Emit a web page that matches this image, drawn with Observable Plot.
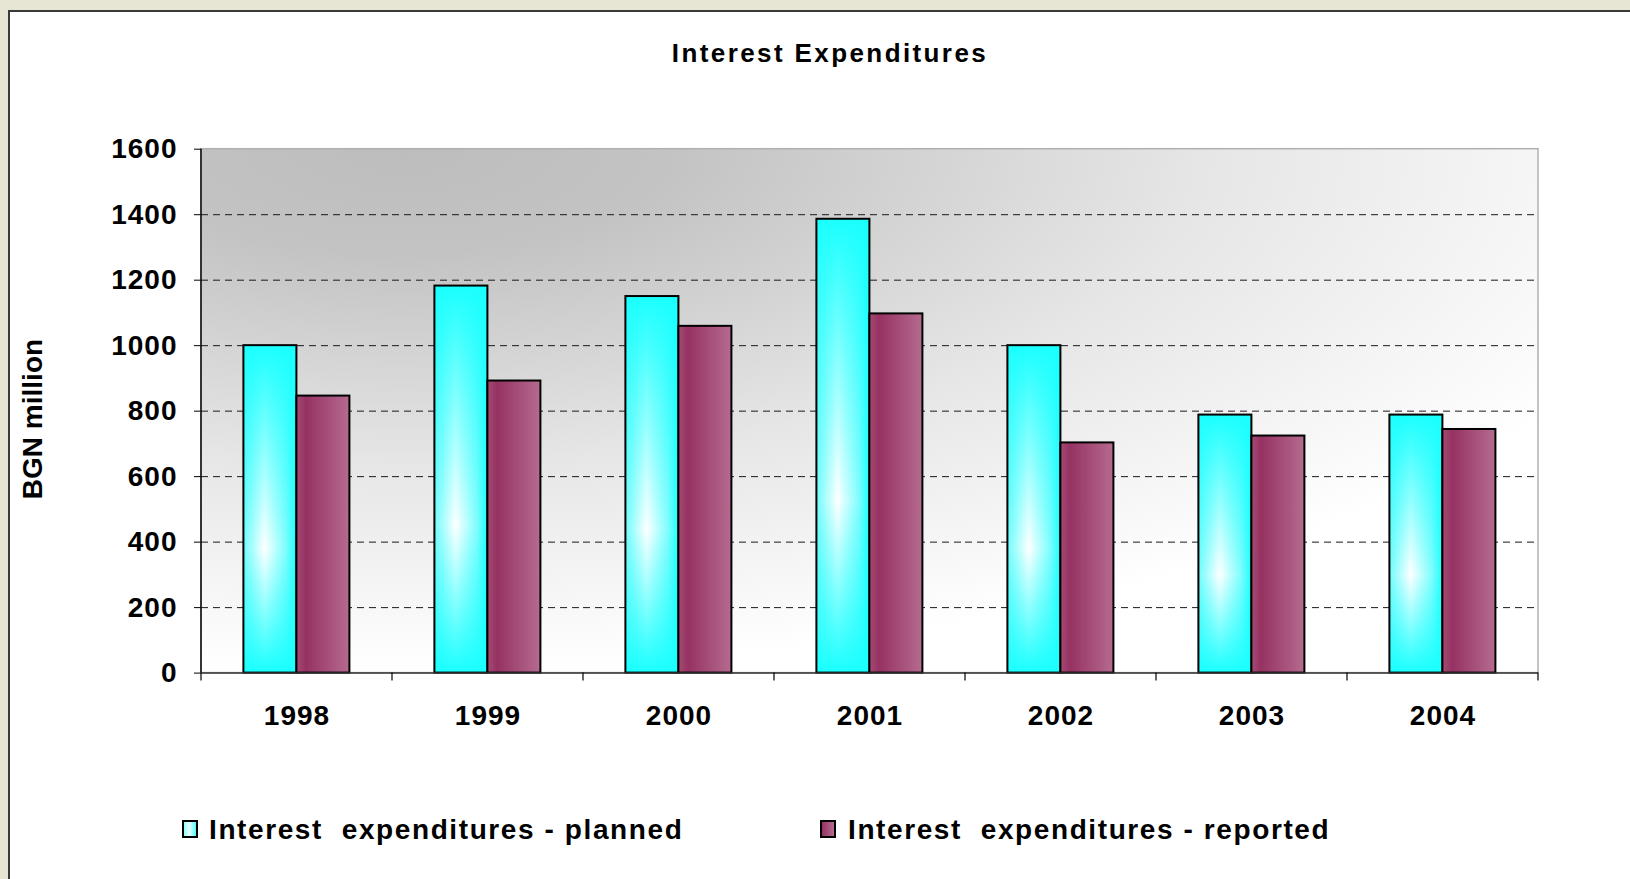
<!DOCTYPE html>
<html>
<head>
<meta charset="utf-8">
<script src="https://cdn.jsdelivr.net/npm/d3@7"></script>
<script src="https://cdn.jsdelivr.net/npm/@observablehq/plot@0.6"></script>
<style>
  html, body { margin: 0; padding: 0; }
  body { width: 1630px; height: 879px; overflow: hidden; position: relative;
         background: #e7e5d4; font-family: "Liberation Sans", Arial, sans-serif; }
  #panel { position: absolute; left: 8px; top: 10px; width: 1640px; height: 900px;
           background: #ffffff; border-left: 2px solid #3a3a3a; border-top: 2px solid #3a3a3a; box-sizing: border-box; }
  #title { position: absolute; left: 530px; width: 600px; top: 39.7px; text-align: center;
           font-size: 26px; line-height: 26px; font-weight: bold; letter-spacing: 2.4px; color: #000; }
  #ylabel { position: absolute; left: -87.4px; top: 405px; width: 240px; height: 28px; line-height: 28px;
            text-align: center; font-size: 28px; font-weight: bold; color: #000; transform: rotate(-90deg); }
  #chart { position: absolute; left: 0; top: 100px; }
  .lg-sw { position: absolute; top: 820px; width: 16px; height: 18px; box-sizing: border-box; border: 2px solid #000; }
  .lg-tx { position: absolute; top: 816.3px; font-size: 28px; line-height: 28px; font-weight: bold;
           letter-spacing: 1.6px; white-space: pre; color: #000; }
</style>
</head>
<body>
<svg width="0" height="0" style="position:absolute">
  <defs>
    <radialGradient id="bgG" cx="0.15" cy="0" r="1" fx="0.15" fy="0">
      <stop offset="0" stop-color="#bdbdbd"/>
      <stop offset="0.2" stop-color="#c3c3c3"/>
      <stop offset="0.6" stop-color="#e6e6e6"/>
      <stop offset="1" stop-color="#ffffff"/>
    </radialGradient>
    <linearGradient id="cyanH" x1="0" x2="1" y1="0" y2="0">
      <stop offset="0" stop-color="#6ffcfc"/>
      <stop offset="0.4" stop-color="#ffffff"/>
      <stop offset="0.8" stop-color="#80fdfd"/>
      <stop offset="1" stop-color="#1cfefe"/>
    </linearGradient>
    <linearGradient id="cyanV" x1="0" x2="0" y1="0" y2="1">
      <stop offset="0" stop-color="#1affff" stop-opacity="1"/>
      <stop offset="0.62" stop-color="#1affff" stop-opacity="0"/>
      <stop offset="1" stop-color="#1affff" stop-opacity="1"/>
    </linearGradient>
    <linearGradient id="purpleH" x1="0" x2="1" y1="0" y2="0">
      <stop offset="0" stop-color="#a44c74"/>
      <stop offset="0.18" stop-color="#963262"/>
      <stop offset="1" stop-color="#b56b90"/>
    </linearGradient>
  </defs>
</svg>
<div id="panel"></div>
<div id="title"></div>
<div id="ylabel"></div>
<div id="chart"></div>
<div id="legend"></div>
<script>
// ---- data ----
const title = "Interest Expenditures";
const yLabel = "BGN million";
const years = ["1998", "1999", "2000", "2001", "2002", "2003", "2004"];
const planned = [1000, 1182, 1150, 1386, 1000, 788, 788];
const reported = [846, 892, 1059, 1097, 703, 724, 744];
const yTicks = [0, 200, 400, 600, 800, 1000, 1200, 1400, 1600];
const seriesKeys = ["planned", "reported"];
const seriesNames = ["Interest  expenditures - planned", "Interest  expenditures - reported"];

(function () {
  const plannedRows = years.map((year, i) => ({year, series: seriesKeys[0], value: planned[i]}));
  const reportedRows = years.map((year, i) => ({year, series: seriesKeys[1], value: reported[i]}));

  document.getElementById("title").textContent = title;
  document.getElementById("ylabel").textContent = yLabel;

  const chart = Plot.plot({
    width: 1630,
    height: 680,
    marginTop: 48.7,
    marginBottom: 107.4,
    marginLeft: 200.6,
    marginRight: 91.5,
    style: {fontFamily: "'Liberation Sans', Arial, sans-serif", fontSize: "28px", fontWeight: "bold",
            letterSpacing: "1px", color: "#000", background: "transparent", overflow: "visible"},
    fx: {domain: years, padding: 0},
    x: {domain: seriesKeys, paddingInner: 0, paddingOuter: 0.77, axis: null},
    y: {domain: [yTicks[0], yTicks[yTicks.length - 1]]},
    marks: [
      Plot.gridY(yTicks.slice(1, -1), {stroke: "#1a1a1a", strokeOpacity: 1, strokeDasharray: "7,5", strokeWidth: 1}),
      Plot.barY(plannedRows, {fx: "year", x: "series", y: "value", fill: "url(#cyanH)"}),
      Plot.barY(plannedRows, {fx: "year", x: "series", y: "value", fill: "url(#cyanV)", stroke: "#000", strokeWidth: 2}),
      Plot.barY(reportedRows, {fx: "year", x: "series", y: "value", fill: "url(#purpleH)", stroke: "#000", strokeWidth: 2}),
      Plot.ruleY([0], {stroke: "#333", strokeWidth: 1.5}),
      Plot.axisY({ticks: yTicks, tickSize: 7, tickPadding: 17, tickFormat: "d", label: null, stroke: "#000"}),
      Plot.axisFx({anchor: "bottom", tickSize: 0, tickPadding: 32, label: null})
    ]
  });
  document.getElementById("chart").appendChild(chart);

  // plot-area background, axis line and category boundary ticks, from the scales
  const fxS = chart.scale("fx");
  const yS = chart.scale("y");
  const xLeft = fxS.apply(years[0]);
  const xRight = fxS.apply(years[years.length - 1]) + fxS.bandwidth;
  const yTop = yS.apply(yTicks[yTicks.length - 1]);
  const yBottom = yS.apply(0);
  const svg = d3.select(chart);
  svg.insert("rect", "g")
    .attr("x", xLeft).attr("y", yTop).attr("width", xRight - xLeft).attr("height", yBottom - yTop)
    .attr("fill", "url(#bgG)").attr("stroke", "#b0b0b0").attr("stroke-width", 1.5);
  const g = svg.append("g");
  const bounds = years.map(y => fxS.apply(y)).concat([xRight]);
  g.selectAll("line.b").data(bounds).join("line")
    .attr("x1", d => d).attr("x2", d => d).attr("y1", yBottom).attr("y2", yBottom + 8)
    .attr("stroke", "#000").attr("stroke-width", 1.2);
  g.append("line").attr("x1", xLeft).attr("x2", xLeft).attr("y1", yTop).attr("y2", yBottom)
    .attr("stroke", "#111").attr("stroke-width", 1.6);

  // legend
  const legend = document.getElementById("legend");
  const legendPos = [{sw: 182, tx: 209, bg: "linear-gradient(90deg, #8ffdfd, #e8ffff 45%, #4ffefe)"},
                     {sw: 820, tx: 848, bg: "linear-gradient(90deg, #963262, #b56b90)"}];
  seriesNames.forEach((name, i) => {
    const sw = document.createElement("div");
    sw.className = "lg-sw";
    sw.style.left = legendPos[i].sw + "px";
    sw.style.background = legendPos[i].bg;
    legend.appendChild(sw);
    const tx = document.createElement("div");
    tx.className = "lg-tx";
    tx.style.left = legendPos[i].tx + "px";
    tx.textContent = name;
    legend.appendChild(tx);
  });
})();
</script>
</body>
</html>
